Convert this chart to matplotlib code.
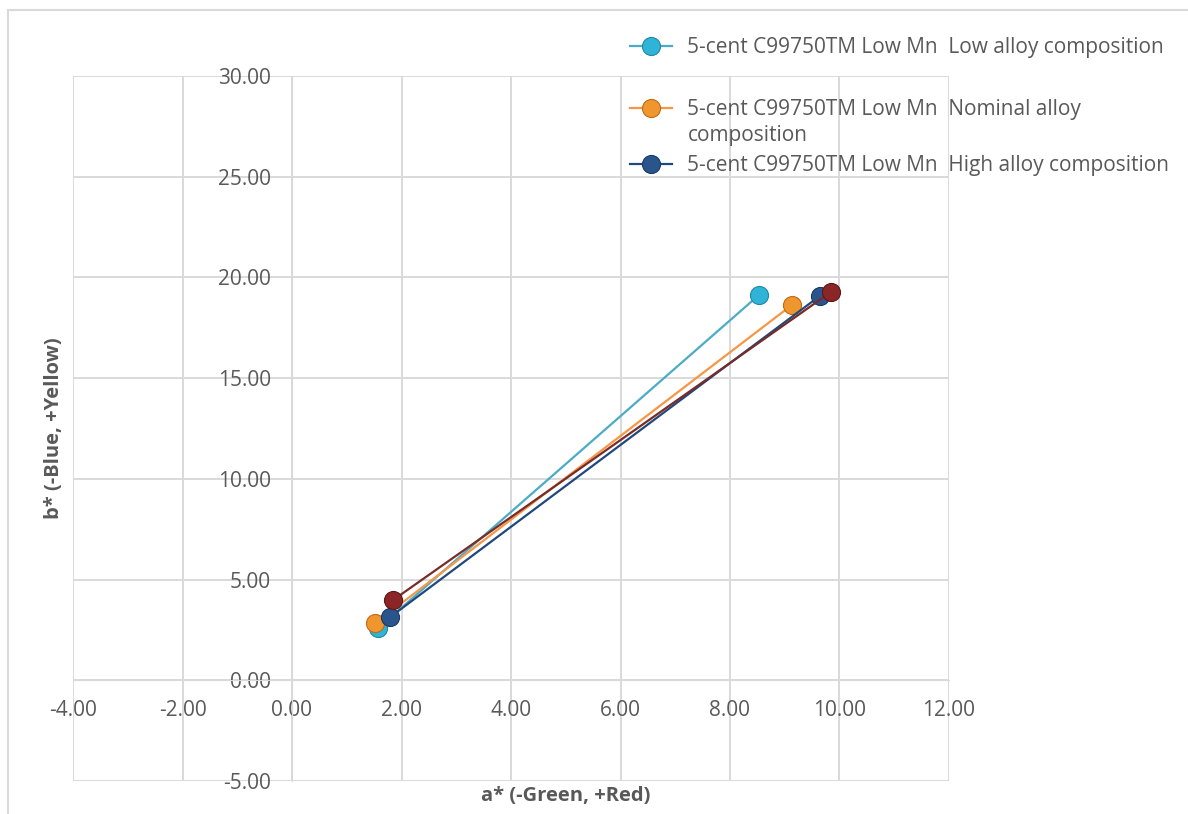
import matplotlib.pyplot as plt
from matplotlib.patches import Rectangle

plt.rcParams['font.family'] = ['Open Sans', 'DejaVu Sans']

# a*, b* values (two points per series)
low_a = [1.57, 8.53]
low_b = [2.58, 19.13]
nom_a = [1.52, 9.13]
nom_b = [2.83, 18.63]
high_a = [1.79, 9.64]
high_b = [3.13, 19.08]
extra_a = [1.84, 9.84]
extra_b = [3.97, 19.27]

labels = ["5-cent C99750TM Low Mn  Low alloy composition",
          "5-cent C99750TM Low Mn  Nominal alloy",
          "5-cent C99750TM Low Mn  High alloy composition"]

x_ticks = [-4, -2, 0, 2, 4, 6, 8, 10, 12]
y_ticks = [-5, 0, 5, 10, 15, 20, 25, 30]

grey = "#595959"
grid_c = "#D9D9D9"

fig = plt.figure(figsize=(11.88, 8.14), dpi=100)
ax = fig.add_axes([73/1188, 1 - 781/814, 876/1188, 705/814])

# outer chart border (cropped on right/bottom)
fig.patches.append(Rectangle((8/1188, -0.1), 1.2, (814 - 10)/814 + 0.1,
                             transform=fig.transFigure, fill=False,
                             edgecolor=grid_c, lw=1.5))

series = [
    (low_a, low_b, "#4BACC6", "#2FB3D6", "#1F8AA6"),
    (nom_a, nom_b, "#F79646", "#F0962E", "#C06A12"),
    (high_a, high_b, "#1F497D", "#2A558C", "#173A66"),
    (extra_a, extra_b, "#772C2A", "#8C2525", "#5E1616"),
]
handles = []
for a, b, lc, mc, ec in series:
    h, = ax.plot(a, b, color=lc, lw=1.6, marker="o", markersize=13,
                 markerfacecolor=mc, markeredgecolor=ec, markeredgewidth=0.8,
                 zorder=3)
    handles.append(h)

ax.set_xlim(-4, 12)
ax.set_ylim(-5, 30)
ax.set_xticks(x_ticks)
ax.set_yticks(y_ticks)
ax.xaxis.set_major_formatter(lambda v, p: f"{v:.2f}")
ax.yaxis.set_major_formatter(lambda v, p: f"{v:.2f}")
ax.grid(True, color=grid_c, lw=1.4)
ax.set_axisbelow(True)
for s in ["top", "right"]:
    ax.spines[s].set_visible(False)
ax.spines["left"].set_position(("data", 0))
ax.spines["bottom"].set_position(("data", 0))
ax.spines["left"].set_color(grid_c)
ax.spines["bottom"].set_color(grid_c)
ax.tick_params(length=0, labelsize=15, labelcolor=grey)
ax.tick_params(axis="x", pad=14)
ax.tick_params(axis="y", pad=15)

ax.set_xlabel("a* (-Green, +Red)", fontsize=14.5, fontweight="bold", color=grey)
ax.set_ylabel("b* (-Blue, +Yellow)", fontsize=14.5, fontweight="bold", color=grey)
ax.xaxis.set_label_coords((566 - 73)/876, (781 - 786)/705)
ax.yaxis.set_label_coords((64 - 73)/876, (781 - 428)/705)

# legend entries positioned like the reference
ys = [48, 110, 166]
for h, lab, y in zip(handles[:3], labels, ys):
    fig.legend(handles=[h], labels=[lab], loc="center left",
               bbox_to_anchor=(630/1188, 1 - y/814), frameon=False,
               fontsize=15, labelcolor=grey, handlelength=2.0,
               handletextpad=0.75, borderpad=0, borderaxespad=0)
fig.text(688/1188, 1 - 135/814, "composition", fontsize=15, color=grey,
         va="center", ha="left")

fig.savefig("out.png", dpi=100)
